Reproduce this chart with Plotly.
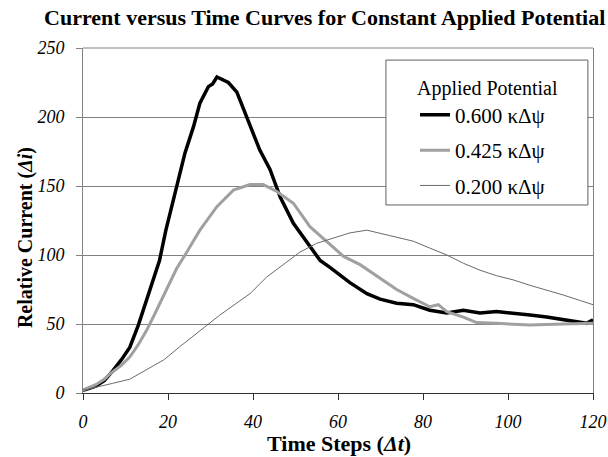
import plotly.graph_objects as go

# Data
t_600 = [0, 3, 5, 7, 9, 11, 13, 15, 16, 18, 19.5, 22, 24, 26, 27.5, 29.5, 30.5, 31.5, 33, 34.2,
         36.2, 38.5, 41.6, 44, 46.4, 49.5, 53.4, 55.8, 58.1, 62.8, 66.8, 69.9, 73.8, 77.7, 81.6,
         85.6, 89.5, 93.4, 97.3, 101.2, 105.2, 109.1, 113, 117, 118.5, 120]
i_600 = [2, 5, 9, 16, 24, 33, 49, 68, 79, 96, 118, 149, 174, 193, 210, 222, 224, 229, 227, 225,
         218, 200, 176, 162, 142, 123, 106, 96, 91, 80, 72, 68, 65, 64, 60,
         58, 60, 58, 59, 58, 56.5, 55, 53, 51, 50.5, 53]

t_425 = [0, 3, 5, 6.4, 9, 11, 13, 15, 17, 19.7, 22, 24.4, 27.5, 31.5, 35.4, 39.3, 42.4, 45.6,
         49.5, 53.4, 57.3, 61.3, 65.2, 69.1, 73.8, 77.7, 81.6, 83.6, 85.6, 89.5, 92.6, 97.3,
         105.2, 113, 120]
i_425 = [2, 6, 10, 14, 20, 26, 35, 45.6, 58, 75, 90, 102, 118, 135, 147, 151, 151, 146,
         137.5, 120.5, 110, 99, 93, 85, 75, 68.6, 62.5, 64, 59, 55, 51, 50.5,
         49.3, 50, 50.5]

t_200 = [0, 3, 7, 11, 15, 19, 22.8, 27, 32.2, 39.3, 43.2, 47.1, 51, 55, 59.7, 62.8, 66.8, 70.7,
         74.6, 77.7, 81.6, 85.6, 89.5, 93.4, 97.3, 101.2, 105.2, 109.1, 113, 117, 120]
i_200 = [2, 4, 7, 10, 16.7, 24, 33.6, 44, 56.5, 72, 84, 93, 102, 108.5, 113, 116, 118, 115,
         112, 110, 105, 100, 94, 89, 85, 82, 78, 74.6, 71, 67, 64]

x_ticks = [0, 20, 40, 60, 80, 100, 120]
y_ticks = [0, 50, 100, 150, 200, 250]

SERIF = "Liberation Serif, Times New Roman, serif"

fig = go.Figure()
fig.add_trace(go.Scatter(x=t_600, y=i_600, mode="lines", name="0.600 κΔψ", legendgroup="a",
                         line=dict(color="black", width=3.5)))
fig.add_trace(go.Scatter(x=t_425, y=i_425, mode="lines", name="0.425 κΔψ", legendgroup="b",
                         line=dict(color="#a0a0a0", width=3)))
fig.add_trace(go.Scatter(x=t_200, y=i_200, mode="lines", name="0.200 κΔψ", legendgroup="c",
                         line=dict(color="#6a6a6a", width=1)))

fig.update_layout(
    width=608, height=457,
    margin=dict(l=83, r=15, t=48, b=64, autoexpand=False),
    paper_bgcolor="white", plot_bgcolor="white",
    title=dict(text="<b>Current versus Time Curves for Constant Applied Potential</b>",
               x=0.534, xanchor="center", y=0.962, yanchor="middle",
               font=dict(family=SERIF, size=22, color="black")),
    font=dict(family=SERIF, color="black"),
    legend=dict(
        x=0.651, xanchor="left", y=0.94, yanchor="top",
        bgcolor="rgba(0,0,0,0)", borderwidth=0,
        font=dict(family=SERIF, size=21, color="black"),
        title=dict(text="Applied Potential", side="top center",
                   font=dict(family=SERIF, size=20, color="black")),
        tracegroupgap=5, itemwidth=30,
    ),
    xaxis=dict(
        range=[0, 120], tickvals=x_ticks, ticktext=[str(v) for v in x_ticks],
        showgrid=False, zeroline=False, automargin=False,
        showline=True, linecolor="#303030", linewidth=1,
        ticks="outside", ticklen=6, tickcolor="#303030",
        ticklabelstandoff=6,
        tickfont=dict(family=SERIF, size=18, style="italic", color="black"),
    ),
    yaxis=dict(
        range=[0, 250], tickvals=y_ticks, ticktext=[str(v) for v in y_ticks],
        showgrid=True, gridcolor="#808080", gridwidth=1, zeroline=False, automargin=False,
        showline=True, linecolor="#808080", linewidth=1, mirror=True,
        ticks="outside", ticklen=6, tickcolor="#808080",
        ticklabelstandoff=8,
        tickfont=dict(family=SERIF, size=18, style="italic", color="black"),
    ),
    shapes=[
        dict(type="line", xref="paper", yref="paper", x0=0, x1=1, y0=1, y1=1,
             line=dict(color="#808080", width=1)),
        dict(type="rect", xref="paper", yref="paper", x0=0.594, x1=0.990, y0=0.545, y1=0.965,
             fillcolor="white", line=dict(color="#606060", width=1), layer="above"),
    ],
    annotations=[
        dict(text="<b>Time Steps (<i>Δt</i>)</b>", xref="paper", yref="paper",
             x=0.502, y=-0.145, xanchor="center", yanchor="middle", showarrow=False,
             font=dict(family=SERIF, size=22, color="black")),
        dict(text="<b>Relative Current (<i>Δi</i>)</b>", xref="paper", yref="paper",
             x=-0.113, y=0.45, xanchor="center", yanchor="middle", showarrow=False,
             textangle=-90, font=dict(family=SERIF, size=20, color="black")),
    ],
)

fig.write_html("out.html", config={"displayModeBar": False},
               post_script="document.body.style.margin='0';")
